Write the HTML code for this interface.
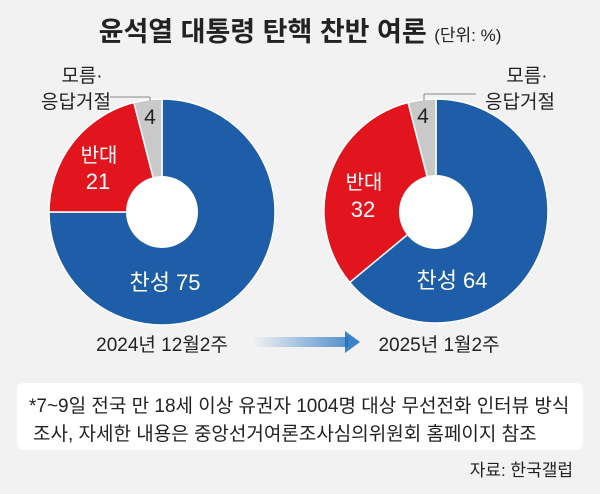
<!DOCTYPE html>
<html><head><meta charset="utf-8"><style>
body{margin:0;background:#f2f2f2;}
svg{display:block}
text{font-family:"Liberation Sans","Noto Sans CJK KR",sans-serif;}
</style></head><body>
<svg width="600" height="494" viewBox="0 0 600 494" xmlns="http://www.w3.org/2000/svg">
<rect width="600" height="494" fill="#f2f2f2"/>
<text x="300" y="41" text-anchor="middle" font-size="27" font-weight="bold" fill="#222">윤석열 대통령 탄핵 찬반 여론 <tspan font-size="17" font-weight="normal">(단위: %)</tspan></text>

<!-- left pie -->
<g stroke="#fff" stroke-width="1.5">
<path d="M162,212 L162,99 A113,113 0 1 1 49,212 Z" fill="#1e5ea8"/>
<path d="M162,212 L49,212 A113,113 0 0 1 133.9,102.5 Z" fill="#e2141d"/>
<path d="M162,212 L133.9,102.5 A113,113 0 0 1 162,99 Z" fill="#c9c9c9"/>
</g>
<circle cx="162" cy="212" r="36" fill="#fff"/>
<!-- right pie -->
<g stroke="#fff" stroke-width="1.5">
<path d="M436,211 L436,99 A112,112 0 1 1 349.7,282.4 Z" fill="#1e5ea8"/>
<path d="M436,211 L349.7,282.4 A112,112 0 0 1 408.1,102.5 Z" fill="#e2141d"/>
<path d="M436,211 L408.1,102.5 A112,112 0 0 1 436,99 Z" fill="#c9c9c9"/>
</g>
<circle cx="436" cy="212" r="37" fill="#fff"/>

<!-- labels left -->
<text x="82" y="82" text-anchor="middle" font-size="19" fill="#222">모름·</text>
<text x="76" y="108" text-anchor="middle" font-size="19" fill="#222">응답거절</text>
<line x1="110" y1="97" x2="150" y2="97" stroke="#888" stroke-width="1"/>
<line x1="150" y1="97" x2="150" y2="101" stroke="#888" stroke-width="1"/>
<text x="150" y="124" text-anchor="middle" font-size="21" fill="#222">4</text>
<text x="99" y="162" text-anchor="middle" font-size="20" fill="#fff">반대</text>
<text x="98" y="189" text-anchor="middle" font-size="22" fill="#fff">21</text>
<text x="165" y="290" text-anchor="middle" font-size="22" fill="#fff">찬성 75</text>

<!-- labels right -->
<text x="527" y="82" text-anchor="middle" font-size="19" fill="#222">모름·</text>
<text x="520" y="108" text-anchor="middle" font-size="19" fill="#222">응답거절</text>
<line x1="424" y1="94" x2="476" y2="94" stroke="#888" stroke-width="1"/>
<line x1="424" y1="94" x2="424" y2="101" stroke="#888" stroke-width="1"/>
<text x="423" y="123" text-anchor="middle" font-size="21" fill="#222">4</text>
<text x="364" y="189" text-anchor="middle" font-size="20" fill="#fff">반대</text>
<text x="363" y="217" text-anchor="middle" font-size="22" fill="#fff">32</text>
<text x="452" y="288" text-anchor="middle" font-size="22" fill="#fff">찬성 64</text>

<!-- dates -->
<text x="162" y="351" text-anchor="middle" font-size="19" fill="#222">2024년 12월2주</text>
<text x="439" y="351" text-anchor="middle" font-size="19" fill="#222">2025년 1월2주</text>
<defs><linearGradient id="g" x1="0" x2="1"><stop offset="0" stop-color="#1e6fc0" stop-opacity="0"/><stop offset="1" stop-color="#1e6fc0"/></linearGradient></defs>
<rect x="253" y="337" width="95" height="10" fill="url(#g)" opacity="0.75"/>
<polygon points="345,331 360,342 345,353" fill="#1e6fc0" opacity="0.85"/>

<!-- note box -->
<rect x="17" y="383" width="566" height="67" rx="7" fill="#fff"/>
<text x="29" y="412" font-size="19" fill="#222">*7~9일 전국 만 18세 이상 유권자 1004명 대상 무선전화 인터뷰 방식</text>
<text x="33" y="440" font-size="19" fill="#222">조사, 자세한 내용은 중앙선거여론조사심의위원회 홈페이지 참조</text>
<text x="573" y="476" text-anchor="end" font-size="17" fill="#222">자료: 한국갤럽</text>
</svg>
</body></html>
